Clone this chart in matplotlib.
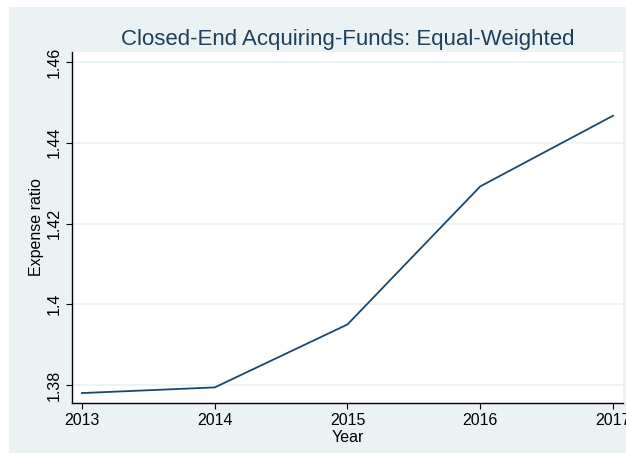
import numpy as np
import matplotlib.pyplot as plt
from matplotlib.patches import Rectangle

plt.rcParams['font.family'] = ['Liberation Sans', 'DejaVu Sans']

# data
years = [2013, 2014, 2015, 2016, 2017]
expense_ratio = [1.3780, 1.3794, 1.3950, 1.4292, 1.4467]
yticks = [1.38, 1.40, 1.42, 1.44, 1.46]
ytick_labels = ['1.38', '1.4', '1.42', '1.44', '1.46']

bg = '#eaf2f3'
navy = '#1a476f'

fig = plt.figure(figsize=(6.26, 4.58), dpi=100, facecolor='white')
# Stata-style outer panel
fig.patches.append(Rectangle((9 / 626, 5 / 458), 1 - 9 / 626, 1 - 12 / 458,
                             transform=fig.transFigure, facecolor=bg,
                             edgecolor='none', zorder=-10))

ax = fig.add_axes([72 / 626, 1 - 403 / 458, (623 - 72) / 626, (403 - 52) / 458])
ax.set_zorder(1)
ax.set_facecolor('white')
ax.plot(years, expense_ratio, color=navy, linewidth=1.3, zorder=3)

ax.set_xlim(2012.925, 2017.075)
ax.set_ylim(1.37554, 1.46248)
ax.set_xticks(years)
ax.set_xticklabels([str(y) for y in years])
ax.set_yticks(yticks)
ax.set_yticklabels(ytick_labels, rotation=90, va='center')

ax.grid(axis='y', color=bg, linewidth=1.2)
ax.set_axisbelow(True)
for s in ['top', 'right']:
    ax.spines[s].set_visible(False)
for s in ['left', 'bottom']:
    ax.spines[s].set_color('black')
    ax.spines[s].set_linewidth(1.0)

ax.tick_params(axis='both', direction='out', length=4.5, width=0.8,
               labelsize=11.5, colors='black', pad=3)
ax.set_xlabel('Year', fontsize=11.5, labelpad=1)
ax.set_ylabel('Expense ratio', fontsize=11.5, labelpad=2)
ax.set_title('Closed-End Acquiring-Funds: Equal-Weighted', fontsize=16,
             color='#1e3f5a', pad=5)

fig.savefig('out.png', dpi=100, facecolor=fig.get_facecolor())
